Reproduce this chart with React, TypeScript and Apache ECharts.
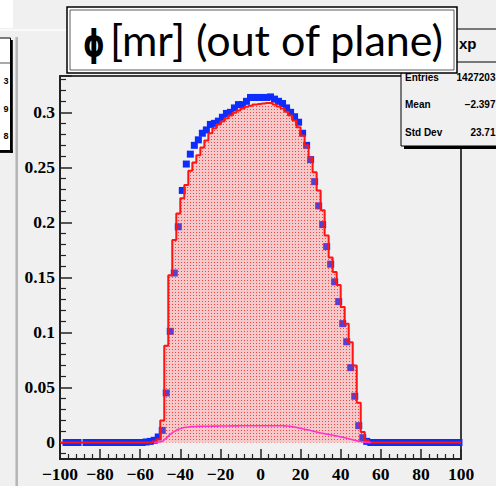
import React, { useEffect, useRef } from 'react';
import * as echarts from 'echarts';

// ---- axis ranges ----
const X_MIN = -100;
const X_MAX = 100;
const X_INTERVAL = 20;
const Y_MIN = -0.015;
const Y_MAX = 0.333;
const BIN_WIDTH = 2;
const N_BINS = 100;
// bin centers -99, -97, ..., 99 (bin geometry, not data)
const BIN_CENTERS = Array.from({ length: N_BINS }, (_, i) => X_MIN + BIN_WIDTH * (i + 0.5));

// ---- red histogram (simulation), one value per bin ----
const RED_HIST = [
  0, 0, 0, 0, 0, 0, 0, 0, 0, 0,
  0, 0, 0, 0, 0, 0, 0, 0, 0, 0,
  0, 0, 0, 0.001, 0.003, 0.02, 0.088, 0.152, 0.184, 0.208,
  0.222, 0.234, 0.247, 0.2545, 0.261, 0.268, 0.2745, 0.281, 0.2855, 0.289,
  0.2917, 0.2945, 0.297, 0.2995, 0.3017, 0.3035, 0.305, 0.306, 0.307, 0.3076,
  0.308, 0.3085, 0.3085, 0.307, 0.3053, 0.3035, 0.3005, 0.297, 0.2925, 0.2865,
  0.279, 0.27, 0.259, 0.2455, 0.229, 0.211, 0.188, 0.168, 0.155, 0.143,
  0.123, 0.108, 0.091, 0.07, 0.036, 0.0095, 0.002, 0, 0, 0,
  0, 0, 0, 0, 0, 0, 0, 0, 0, 0,
  0, 0, 0, 0, 0, 0, 0, 0, 0, 0,
];

// ---- blue markers (data), one value per bin (null = empty) ----
const BLUE_DATA = [
  null, 0, 0, 0, 0, null, 0, 0, 0, 0,
  0, 0, 0, 0, 0, 0, 0, 0, 0, 0,
  0, 0.0005, 0.001, 0.002, 0.005, 0.011, 0.045, 0.101, 0.154, 0.196,
  0.229, 0.253, 0.262, 0.27, 0.275, 0.281, 0.284, 0.289, 0.29, 0.292,
  0.2955, 0.299, 0.3, 0.304, 0.307, 0.307, 0.31, 0.3135, 0.3135, 0.3135,
  0.3135, 0.3135, 0.314, 0.312, 0.31, 0.308, 0.304, 0.3, 0.296, 0.291,
  0.281, 0.27, 0.257, 0.237, 0.215, 0.198, 0.178, 0.162, 0.146, 0.128,
  0.108, 0.0915, 0.068, 0.042, 0.0153, 0.0044, 0.001, 0, 0, 0,
  0, 0, 0, 0, 0, 0, 0, 0, 0, 0,
  0, 0, 0, 0, 0, 0, 0, 0, 0, 0,
];

// ---- magenta curve, one value per bin (null = not drawn) ----
const MAGENTA_CURVE = [
  null, null, null, null, null, null, null, null, null, null,
  null, null, null, null, null, null, null, null, null, null,
  null, null, null, 0, 0.0003, 0.001, 0.004, 0.0075, 0.01, 0.012,
  0.0132, 0.0139, 0.0143, 0.0145, 0.0146, 0.0147, 0.0148, 0.0148, 0.0149, 0.0149,
  0.015, 0.015, 0.0151, 0.0151, 0.0151, 0.0152, 0.0152, 0.0152, 0.0152, 0.0152,
  0.0152, 0.0152, 0.0152, 0.0152, 0.0152, 0.0152, 0.015, 0.0146, 0.014, 0.0132,
  0.0125, 0.0117, 0.0109, 0.01, 0.0091, 0.0083, 0.0076, 0.007, 0.0063, 0.0055,
  0.0047, 0.0039, 0.003, 0.0021, 0.0012, 0.0005, 0.0001, 0, null, null,
  null, null, null, null, null, null, null, null, null, null,
  null, null, null, null, null, null, null, null, null, null,
];

// ---- texts ----
const TITLE_SYMBOL = 'ϕ';
const TITLE_REST = '[mr] (out of plane)';
const STATS_NAME = 'xp';
const STATS_LABELS = ['Entries', 'Mean', 'Std Dev'];
const STATS_VALUES = ['1427203', '−2.397', '23.71'];
const LEFT_DIGITS = ['3', '9', '8'];

const BG = '#f0f0f0';

export default function App() {
  const ref = useRef<HTMLDivElement>(null);

  useEffect(() => {
    const el = ref.current;
    if (!el) return;
    const chart = echarts.init(el, null, { renderer: 'svg' });

    const cv = document.createElement('canvas');
    cv.width = 3;
    cv.height = 3;
    const ctx = cv.getContext('2d');
    if (ctx) {
      ctx.fillStyle = 'rgba(255,110,110,0.30)';
      ctx.fillRect(0, 0, 3, 3);
      ctx.fillStyle = 'rgba(255,20,20,0.75)';
      ctx.fillRect(1, 1, 1, 1);
    }
    const fillPattern: any = { image: cv, repeat: 'repeat' };

    const redData: any[] = [[X_MIN, RED_HIST[0]]];
    BIN_CENTERS.forEach((x, i) => redData.push([x, RED_HIST[i]]));
    redData.push([X_MAX, RED_HIST[N_BINS - 1]]);

    const blueData: any[] = [];
    BIN_CENTERS.forEach((x, i) => {
      if (BLUE_DATA[i] !== null) blueData.push([x, BLUE_DATA[i]]);
    });

    const magData = BIN_CENTERS.map((x, i) => [x, MAGENTA_CURVE[i]]);

    const labelFont = {
      fontFamily: '"Liberation Serif", "Times New Roman", serif',
      fontWeight: 'bold' as const,
      fontSize: 17.5,
      color: '#000',
    };

    const statFont = 'bold 10px "Liberation Sans", Arial, sans-serif';

    const graphics: any[] = [
      { type: 'rect', z: 1, shape: { x: 0, y: 0, width: 13, height: 28 }, style: { fill: '#ffffff' } },
      { type: 'line', z: 1, shape: { x1: 0, y1: 30, x2: 67, y2: 30 }, style: { stroke: '#fafafa', lineWidth: 2 } },
      { type: 'line', z: 1, shape: { x1: 16.7, y1: 37, x2: 16.7, y2: 486 }, style: { stroke: '#b5b5b5', lineWidth: 2.5 } },
      { type: 'rect', z: 1, shape: { x: -3, y: 38, width: 13.5, height: 112.5 }, style: { fill: '#ffffff', stroke: '#000', lineWidth: 1 } },
      { type: 'rect', z: 1, shape: { x: 10.2, y: 40, width: 2.6, height: 113 }, style: { fill: '#000' } },
      { type: 'rect', z: 1, shape: { x: 0, y: 150.3, width: 12.8, height: 2.6 }, style: { fill: '#000' } },
      { type: 'line', z: 1, shape: { x1: 0, y1: 63, x2: 10, y2: 63 }, style: { stroke: '#555', lineWidth: 1 } },
      ...LEFT_DIGITS.map((d, i) => ({
        type: 'text', z: 2, x: 8.5, y: [81, 109, 136][i],
        style: { text: d, font: 'bold 9px "Liberation Sans", Arial, sans-serif', fill: '#000', align: 'right', verticalAlign: 'middle' },
      })),
      { type: 'rect', z: 100, shape: { x: 401, y: 29, width: 100, height: 117 }, style: { fill: BG, stroke: '#000', lineWidth: 1 } },
      { type: 'rect', z: 100, shape: { x: 404, y: 146, width: 95, height: 3 }, style: { fill: '#000' } },
      { type: 'line', z: 100, shape: { x1: 401, y1: 62, x2: 497, y2: 62 }, style: { stroke: '#000', lineWidth: 1 } },
      { type: 'text', z: 101, x: 459, y: 43, style: { text: STATS_NAME, font: 'bold 15px "Liberation Sans", Arial, sans-serif', fill: '#000', align: 'left', verticalAlign: 'middle' } },
      ...STATS_LABELS.map((t, i) => ({
        type: 'text', z: 101, x: 405, y: [77, 104, 132][i],
        style: { text: t, font: statFont, fill: '#000', align: 'left', verticalAlign: 'middle' },
      })),
      ...STATS_VALUES.map((t, i) => ({
        type: 'text', z: 101, x: 495.5, y: [77, 104, 132][i],
        style: { text: t, font: statFont, fill: '#000', align: 'right', verticalAlign: 'middle' },
      })),
      { type: 'rect', z: 110, shape: { x: 67, y: 7, width: 390, height: 66 }, style: { fill: '#ffffff', stroke: '#000', lineWidth: 1.5 } },
      { type: 'rect', z: 111, shape: { x: 70, y: 10, width: 384, height: 60 }, style: { fill: 'none', stroke: '#333', lineWidth: 0.8 } },
      { type: 'text', z: 112, x: 83, y: 43, scaleX: 0.72, style: { text: TITLE_SYMBOL, font: 'bold 38px "DejaVu Sans", sans-serif', fill: '#000', align: 'left', verticalAlign: 'middle' } },
      { type: 'text', z: 112, x: 110, y: 39, style: { text: TITLE_REST, font: '43px Lato, "Open Sans", sans-serif', fill: '#000', align: 'left', verticalAlign: 'middle' } },
    ];

    const option: any = {
      animation: false,
      backgroundColor: BG,
      grid: {
        left: 60, right: 35, top: 76, bottom: 27,
        show: true, borderColor: '#000', borderWidth: 1.5, backgroundColor: 'transparent',
      },
      xAxis: {
        type: 'value', min: X_MIN, max: X_MAX, interval: X_INTERVAL,
        axisLine: { show: true, onZero: false, lineStyle: { color: '#222', width: 2 } },
        axisTick: { show: true, inside: true, length: 10, lineStyle: { color: '#222', width: 1.5 } },
        minorTick: { show: true, splitNumber: 5, length: 5, lineStyle: { color: '#222', width: 1.2 } },
        splitLine: { show: false },
        axisLabel: {
          ...labelFont, margin: 6,
          formatter: (v: number) => (v < 0 ? '−' + Math.abs(v) : String(v)),
        },
      },
      yAxis: {
        type: 'value', min: Y_MIN, max: Y_MAX, splitNumber: 7,
        axisLine: { show: true, onZero: false, lineStyle: { color: '#222', width: 2 } },
        axisTick: { show: true, inside: true, length: 12, lineStyle: { color: '#222', width: 1.5 } },
        minorTick: { show: true, splitNumber: 5, length: 6, lineStyle: { color: '#222', width: 1.2 } },
        splitLine: { show: false },
        axisLabel: {
          ...labelFont, margin: 5, showMinLabel: false, showMaxLabel: false,
          formatter: (v: number) => {
            const r = Math.round(v * 1000) / 1000;
            return r === 0 ? '0' : String(r);
          },
        },
      },
      series: [
        {
          type: 'scatter', data: blueData, symbol: 'rect', symbolSize: 7,
          itemStyle: { color: '#0d2dff', opacity: 1 }, z: 2, silent: true,
        },
        {
          type: 'line', step: 'middle', data: redData, symbol: 'none', showSymbol: false,
          lineStyle: { color: '#ff1414', width: 2 },
          areaStyle: { color: fillPattern, opacity: 1 },
          z: 3, silent: true,
        },
        {
          type: 'line', smooth: 0.3, smoothMonotone: 'x', data: magData, symbol: 'none', showSymbol: false,
          connectNulls: false,
          lineStyle: { color: '#ff33cc', width: 1.6 }, z: 4, silent: true,
        },
      ],
      graphic: { elements: graphics },
    };

    chart.setOption(option);
    return () => chart.dispose();
  }, []);

  return <div ref={ref} style={{ position: 'fixed', left: 0, top: 0, width: 496, height: 486 }} />;
}
